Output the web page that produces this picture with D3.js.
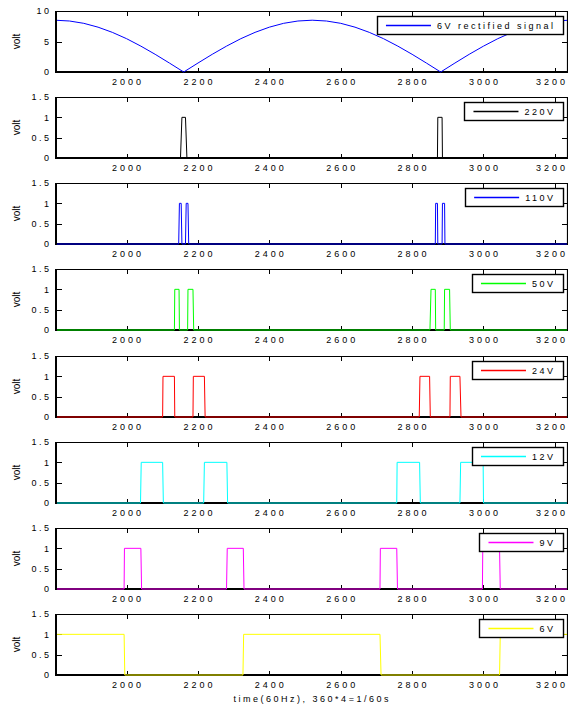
<!DOCTYPE html>
<html>
<head>
<meta charset="utf-8">
<script src="https://cdn.jsdelivr.net/npm/d3@7/dist/d3.min.js"></script>
<style>
  body { margin: 0; background: #fff; }
  text { font-family: "Liberation Sans", Arial, sans-serif; font-size: 9px; fill: #000; }
</style>
</head>
<body>
<svg width="568" height="706"></svg>
<script>
// values
var xTicks = [2000, 2200, 2400, 2600, 2800, 3000, 3200];
var yTicksSignal = [0, 5, 10];
var yTicksPulse = [0, 0.5, 1, 1.5];

var labels = ['6V rectified signal', '220V', '110V', '50V', '24V', '12V', '9V', '6V'];
var colors = ['#0000ff', '#000000', '#0000ff', '#00ff00', '#ff0000', '#00ffff', '#ff00ff', '#ffff00'];

var rectified = [
  [1800, 8.49], [1840, 8.36], [1880, 7.98], [1920, 7.35], [1960, 6.5], [2000, 5.46],
  [2040, 4.24], [2080, 2.9], [2120, 1.47], [2160, 0], [2200, 1.47], [2240, 2.9],
  [2280, 4.24], [2320, 5.46], [2360, 6.5], [2400, 7.35], [2440, 7.98], [2480, 8.36],
  [2520, 8.49], [2560, 8.36], [2600, 7.98], [2640, 7.35], [2680, 6.5], [2720, 5.46],
  [2760, 4.24], [2800, 2.9], [2840, 1.47], [2880, 0], [2920, 1.47], [2960, 2.9],
  [3000, 4.24], [3040, 5.46], [3080, 6.5], [3120, 7.35], [3160, 7.98], [3200, 8.36],
  [3240, 8.49]
];
var v220 = [[1805, 0], [2151, 0], [2155, 1], [2165, 1], [2169, 0],
  [2871, 0], [2872, 1], [2884, 1], [2885, 0], [3240, 0]];
var v110 = [[1805, 0], [2146, 0], [2148, 1], [2153, 1], [2155, 0],
  [2165, 0], [2167, 1], [2172, 1], [2174, 0],
  [2865, 0], [2866, 1], [2871, 1], [2872, 0],
  [2884, 0], [2885, 1], [2891, 1], [2892, 0], [3240, 0]];
var v50 = [[1805, 0], [2134, 0], [2135, 1], [2147, 1], [2148, 0],
  [2171, 0], [2172, 1], [2186, 1], [2188, 0],
  [2850, 0], [2853, 1], [2865, 1], [2866, 0],
  [2890, 0], [2891, 1], [2905, 1], [2907, 0], [3240, 0]];
var v24 = [[1805, 0], [2101, 0], [2102, 1], [2134, 1], [2135, 0],
  [2186, 0], [2187, 1], [2218, 1], [2220, 0],
  [2820, 0], [2822, 1], [2849, 1], [2851, 0],
  [2906, 0], [2907, 1], [2934, 1], [2937, 0], [3240, 0]];
var v12 = [[1805, 0], [2039, 0], [2041, 1], [2101, 1], [2103, 0],
  [2216, 0], [2218, 1], [2281, 1], [2283, 0],
  [2757, 0], [2758, 1], [2821, 1], [2823, 0],
  [2934, 0], [2936, 1], [2999, 1], [3000, 0], [3240, 0]];
var v9 = [[1805, 0], [1993, 0], [1994, 1], [2040, 1], [2042, 0],
  [2280, 0], [2282, 1], [2327, 1], [2329, 0],
  [2710, 0], [2711, 1], [2757, 1], [2759, 0],
  [2997, 0], [2998, 1], [3045, 1], [3047, 0], [3240, 0]];
var v6 = [[1805, 1], [1993, 1], [1995, 0], [2326, 0], [2328, 1],
  [2710, 1], [2713, 0], [3045, 0], [3047, 1], [3240, 1]];

var series = [rectified, v220, v110, v50, v24, v12, v9, v6];

var svg = d3.select('svg');
var left = 57, right = 567, panelH = 61, step = 86.14, firstTop = 11;
var tickLS = 3, textLS = 2.5;

var x = d3.scaleLinear().domain([1805, 3234]).range([left, right]);

svg.append('clipPath').attr('id', 'plotclip')
  .append('rect').attr('x', left).attr('y', 0).attr('width', right - left).attr('height', 706);

series.forEach(function (data, i) {
  var top = Math.round(firstTop + i * step);
  var bottom = top + panelH;
  var isSignal = i === 0;
  var y = d3.scaleLinear().domain([0, isSignal ? 10 : 1.5]).range([bottom, top]);
  var yTicks = isSignal ? yTicksSignal : yTicksPulse;
  var g = svg.append('g');

  // box: top/right thin, left/bottom heavier (matlab look)
  g.append('line').attr('x1', left - 1).attr('x2', right + 1).attr('y1', top + 0.5).attr('y2', top + 0.5)
    .attr('stroke', '#000').attr('stroke-width', 1.2);
  g.append('line').attr('x1', right + 0.5).attr('x2', right + 0.5).attr('y1', top).attr('y2', bottom)
    .attr('stroke', '#000').attr('stroke-width', 1.2);
  g.append('line').attr('x1', left - 1).attr('x2', left - 1).attr('y1', top).attr('y2', bottom + 1)
    .attr('stroke', '#000').attr('stroke-width', 2);
  g.append('line').attr('x1', left - 2).attr('x2', right + 1).attr('y1', bottom).attr('y2', bottom)
    .attr('stroke', '#000').attr('stroke-width', 2);

  // inward ticks on all four sides
  xTicks.forEach(function (t) {
    var px = Math.round(x(t)) + 0.5;
    g.append('line').attr('x1', px).attr('x2', px).attr('y1', bottom).attr('y2', bottom - 4).attr('stroke', '#000');
    g.append('line').attr('x1', px).attr('x2', px).attr('y1', top + 1).attr('y2', top + 5).attr('stroke', '#000');
  });
  yTicks.forEach(function (t) {
    var py = Math.round(y(t)) + 0.5;
    g.append('line').attr('x1', left).attr('x2', left + 5).attr('y1', py).attr('y2', py).attr('stroke', '#000');
    g.append('line').attr('x1', right).attr('x2', right - 5).attr('y1', py).attr('y2', py).attr('stroke', '#000');
  });

  // tick labels
  g.selectAll('.xl').data(xTicks).enter().append('text')
    .attr('text-anchor', 'start')
    .attr('y', bottom + 12.5)
    .style('letter-spacing', tickLS + 'px')
    .text(function (d) { return d; })
    .attr('x', function (d) {
      var w = this.getComputedTextLength() - tickLS;
      var x0 = x(d) - w / 2;
      if (x0 + w > 565) x0 = 565 - w;
      return x0;
    });
  g.selectAll('.yl').data(yTicks).enter().append('text')
    .attr('x', 49 + textLS)
    .attr('y', function (d) { return y(d) + 3.3; })
    .attr('text-anchor', 'end')
    .style('letter-spacing', textLS + 'px')
    .text(function (d) { return String(d); });

  g.append('text')
    .attr('transform', 'translate(20,' + (top + panelH / 2) + ') rotate(-90)')
    .attr('text-anchor', 'middle')
    .style('font-size', '10px')
    .text('volt');

  // series (baseline at integer y so it half-covers the heavy bottom axis)
  var line = d3.line().x(function (d) { return x(d[0]); }).y(function (d) { return y(d[1]); });
  g.append('path')
    .datum(data)
    .attr('clip-path', 'url(#plotclip)')
    .attr('fill', 'none')
    .attr('stroke', colors[i])
    .attr('stroke-width', 1)
    .attr('d', line);

  // legend
  var lg = g.append('g');
  var box = lg.append('rect');
  var txt = lg.append('text')
    .style('letter-spacing', textLS + 'px')
    .text(labels[i]);
  var tw = txt.node().getComputedTextLength() - textLS;
  var bRight = 563, bTop = top + 5, bH = 18;
  var txtX = bRight - 10 - tw;
  var lineX2 = txtX - 6, lineX1 = lineX2 - 45;
  var bLeft = lineX1 - 9;
  box.attr('x', Math.round(bLeft) + 0.5).attr('y', bTop + 0.5)
    .attr('width', Math.round(bRight - bLeft)).attr('height', bH)
    .attr('fill', '#fff').attr('stroke', '#000').attr('stroke-width', 1.4);
  lg.append('line')
    .attr('x1', lineX1).attr('x2', lineX2)
    .attr('y1', bTop + bH / 2 + 0.5).attr('y2', bTop + bH / 2 + 0.5)
    .attr('stroke', colors[i])
    .attr('stroke-width', 1.5);
  txt.attr('x', txtX).attr('y', bTop + bH / 2 + 3.8);
});

svg.append('text')
  .attr('x', 311 + textLS / 2)
  .attr('y', 702)
  .attr('text-anchor', 'middle')
  .style('letter-spacing', textLS + 'px')
  .text('time(60Hz), 360*4=1/60s');
</script>
</body>
</html>
